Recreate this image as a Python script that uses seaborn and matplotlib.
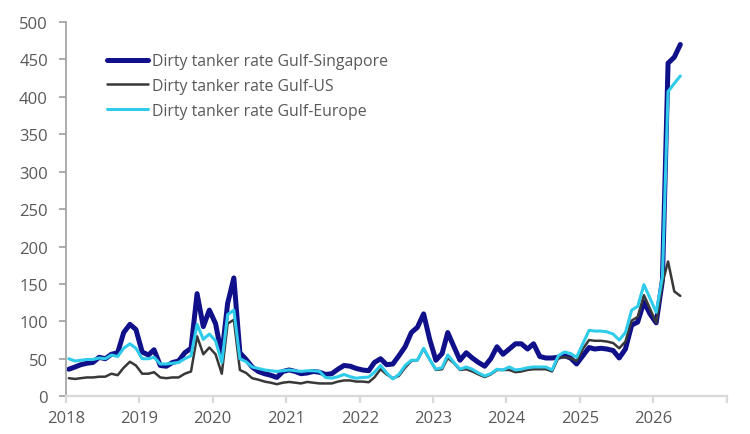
import numpy as np
import pandas as pd
import matplotlib
matplotlib.use('Agg')
import matplotlib.pyplot as plt
import seaborn as sns

# monthly readings, Jan 2018 .. May 2026
gulf_singapore = [
    36, 39, 42, 44, 45, 52, 50, 56, 58, 85, 96, 89,          # 2018
    59, 55, 62, 41, 40, 45, 47, 58, 64, 137, 93, 115,        # 2019
    97, 54, 124, 158, 58, 49, 39, 33, 30, 28, 25, 33,        # 2020
    35, 33, 30, 31, 33, 32, 29, 30, 36, 41, 40, 37,          # 2021
    35, 34, 45, 50, 42, 43, 54, 66, 85, 92, 110, 76,         # 2022
    48, 57, 85, 66, 48, 58, 51, 45, 40, 50, 66, 56,          # 2023
    63, 70, 70, 63, 70, 53, 51, 51, 52, 54, 51, 43,          # 2024
    54, 65, 63, 64, 63, 61, 51, 63, 95, 99, 126, 110,        # 2025
    98, 155, 445, 453, 470,                                  # 2026
]
gulf_us = [
    24, 23, 24, 25, 25, 26, 26, 30, 28, 38, 46, 41,
    30, 30, 32, 25, 24, 25, 25, 30, 33, 80, 56, 65,
    56, 30, 97, 102, 35, 31, 24, 22, 19.5, 18, 16, 18,
    19, 18, 17, 19, 18, 17, 17, 17, 19.5, 21, 21, 19.5,
    19.5, 18.6, 25, 36, 29, 24, 27, 38, 47, 48, 63, 49,
    35, 36, 51, 44, 35, 36, 33, 29, 25.5, 29, 35, 35,
    35, 32, 33, 35, 36, 36, 36, 33, 51, 52, 51, 47,
    63, 75, 74, 74, 73, 71, 64, 73, 101, 106, 135, 117,
    98, 151, 180, 140, 134,
]
gulf_europe = [
    50, 47, 48, 49, 49, 51, 50, 55, 53, 64, 70, 64,
    50, 50, 52, 43, 43, 44, 45, 50, 54, 96, 76, 83,
    74, 45, 109, 115, 50, 46, 39, 37, 35, 34, 33, 34,
    35, 34, 33, 34, 34, 33, 25, 24, 26, 29, 26, 24,
    25, 25.5, 32, 41, 31, 23, 29, 41, 48, 48, 64, 49,
    36, 38, 55, 45, 36, 39, 36, 31, 27, 30, 36, 35,
    39, 35, 36, 38, 39, 39, 39, 35, 54, 59, 57, 52,
    70, 88, 87, 87, 86, 83, 75, 85, 115, 120, 149, 131,
    112, 160, 407, 418, 428,
]

series_names = ['Dirty tanker rate Gulf-Singapore',
                'Dirty tanker rate Gulf-US',
                'Dirty tanker rate Gulf-Europe']
colors = ['#10108a', '#383838', '#2ecbea']
widths = [3.6, 1.8, 2.2]
year_ticks = list(range(2018, 2028))
y_ticks = list(range(0, 501, 50))

dates = pd.date_range('2018-01-01', periods=len(gulf_singapore), freq='MS') + pd.Timedelta(days=14)
df = pd.DataFrame({
    'date': dates,
    series_names[0]: gulf_singapore,
    series_names[1]: gulf_us,
    series_names[2]: gulf_europe,
})

sns.set_theme(style='white')
plt.rcParams['font.family'] = ['Open Sans', 'DejaVu Sans']

fig = plt.figure(figsize=(7.5, 4.35), dpi=100)
ax = fig.add_axes([0.088, 0.087, 0.881, 0.86])

for name, c, lw in zip(series_names, colors, widths):
    sns.lineplot(data=df, x='date', y=name, ax=ax, color=c, linewidth=lw,
                 label=name, solid_capstyle='round', solid_joinstyle='round')

ax.set_xlim(pd.Timestamp('2018-01-01'), pd.Timestamp('2027-01-01'))
ax.set_ylim(0, 500)
ax.set_xticks([pd.Timestamp(f'{y}-01-01') for y in year_ticks])
ax.set_xticklabels([str(y) if y < 2027 else '' for y in year_ticks])
ax.set_yticks(y_ticks)
ax.set_xlabel('')
ax.set_ylabel('')

for side in ['top', 'right']:
    ax.spines[side].set_visible(False)
ax.spines['left'].set_color('#a6a6a6')
ax.spines['bottom'].set_color('#d9d9d9')
ax.spines['left'].set_linewidth(1.3)
ax.spines['bottom'].set_linewidth(1.6)
ax.tick_params(axis='both', which='major', length=5, width=1.3,
               labelcolor='#595959', labelsize=12, direction='out')
ax.tick_params(axis='x', pad=5, color='#d9d9d9', width=1.6)
ax.tick_params(axis='y', pad=8, color='#a6a6a6')
ax.tick_params(bottom=True, left=True)

leg = ax.legend(loc='upper left', bbox_to_anchor=(0.04, 0.955), frameon=False,
                fontsize=11.4, handlelength=2.6, handletextpad=0.25, labelspacing=0.55,
                labelcolor='#595959')

fig.savefig('out.png', dpi=100)
